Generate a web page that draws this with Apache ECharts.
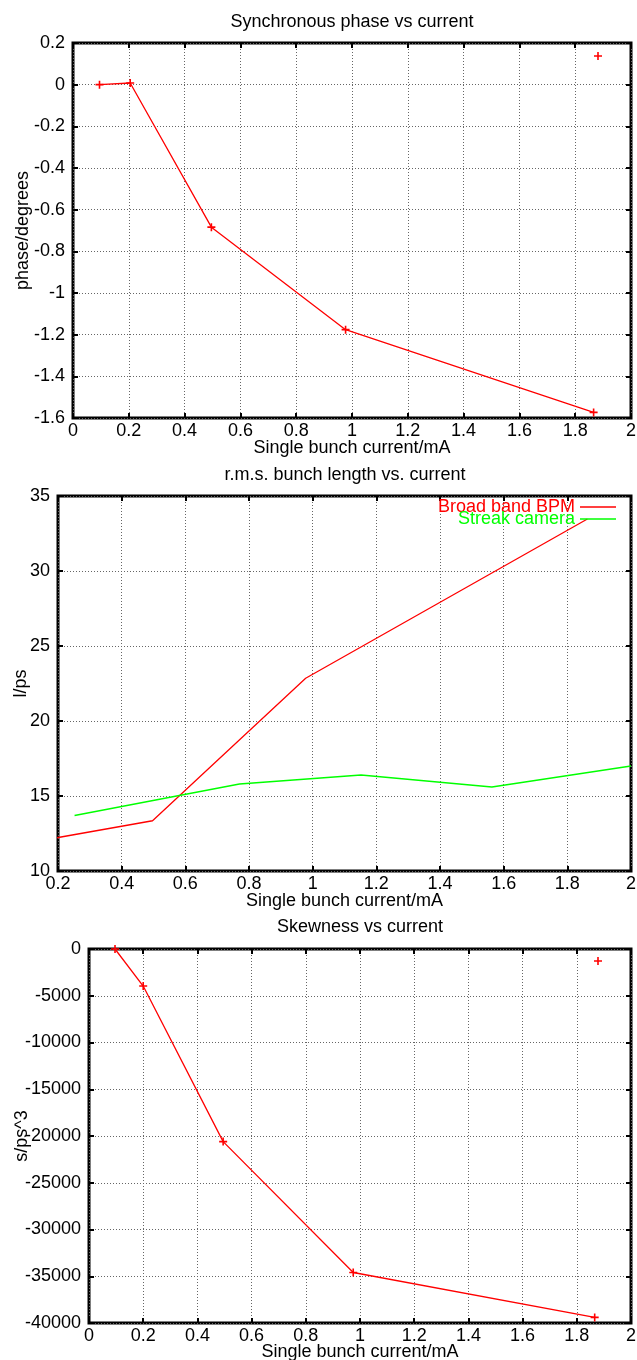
<!DOCTYPE html>
<html>
<head>
<meta charset="utf-8">
<title>Bunch measurements vs current</title>
<script src="https://cdn.jsdelivr.net/npm/echarts@6/dist/echarts.min.js"></script>
<style>
  html, body { margin: 0; padding: 0; background: #fff; }
  #chart { width: 637px; height: 1360px; }
</style>
</head>
<body>
<div id="chart"></div>
<script>
  // synchronous phase (top plot)
  const phaseCurrent = [0.095, 0.205, 0.496, 0.977, 1.866];
  const phaseDeg = [0, 0.008, -0.684, -1.176, -1.573];

  // r.m.s. bunch length (middle plot)
  const bpmCurrent = [0.095, 0.205, 0.497, 0.978, 1.863];
  const bpmLength = [11.8, 12.25, 13.35, 22.85, 33.47];
  const streakCurrent = [0.252, 0.77, 1.152, 1.563, 2.0];
  const streakLength = [13.7, 15.8, 16.4, 15.6, 17.0];

  // skewness (bottom plot)
  const skewCurrent = [0.096, 0.2, 0.495, 0.975, 1.866];
  const skewValue = [0, -3960, -20600, -34600, -39400];

  // axis ranges: [min, max, step]
  const currentAxis1 = [0, 2, 0.2];
  const currentAxis2 = [0.2, 2, 0.2];
  const phaseAxis = [-1.6, 0.2, 0.2];
  const lengthAxis = [10, 35, 5];
  const skewAxis = [-40000, 0, 5000];

  const titles = ['Synchronous phase vs current', 'r.m.s. bunch length vs. current', 'Skewness vs current'];
  const yNames = ['phase/degrees', 'l/ps', 's/ps^3'];
  const xName = 'Single bunch current/mA';
  const seriesNames = ['Broad band BPM', 'Streak camera'];

  const FONT = '"Liberation Sans", Arial, Helvetica, sans-serif';
  const PLUS = 'path://M4,0h2v4h4v2h-4v4h-2v-4h-4v-2h4z';

  function zip(xs, ys) {
    return xs.map((x, i) => [x, ys[i]]);
  }

  function fmt(v) {
    return String(Math.round(v * 1000) / 1000);
  }

  // main axis + mirrored axis with inward ticks (gnuplot style)
  function xAxes(grid, r, gap) {
    const base = {
      type: 'value', gridIndex: grid, min: r[0], max: r[1], interval: r[2],
      axisLine: { show: false, onZero: false },
      axisTick: { show: true, inside: true, length: 5, lineStyle: { color: '#000', width: 2 } }
    };
    return [
      Object.assign({}, base, {
        position: 'bottom',
        name: xName, nameLocation: 'middle', nameGap: gap, nameMoveOverlap: false,
        nameTextStyle: { fontSize: 18, color: '#000', fontFamily: FONT },
        axisLabel: { fontSize: 18, color: '#000', fontFamily: FONT, margin: 4, formatter: fmt },
        splitLine: { show: true, lineStyle: { color: '#666', type: [1, 2], width: 1 } }
      }),
      Object.assign({}, base, {
        position: 'top', axisLabel: { show: false }, splitLine: { show: false }
      })
    ];
  }

  function yAxes(grid, r, name, gap) {
    const base = {
      type: 'value', gridIndex: grid, min: r[0], max: r[1], interval: r[2],
      axisLine: { show: false, onZero: false },
      axisTick: { show: true, inside: true, length: 5, lineStyle: { color: '#000', width: 2 } }
    };
    return [
      Object.assign({}, base, {
        position: 'left',
        name: name, nameLocation: 'middle', nameGap: gap, nameMoveOverlap: false,
        nameTextStyle: { fontSize: 18, color: '#000', fontFamily: FONT },
        axisLabel: { fontSize: 18, color: '#000', fontFamily: FONT, margin: 8, formatter: fmt },
        splitLine: { show: true, lineStyle: { color: '#666', type: [1, 2], width: 1 } }
      }),
      Object.assign({}, base, {
        position: 'right', axisLabel: { show: false }, splitLine: { show: false }
      })
    ];
  }

  const gridBox = {
    show: true, borderColor: '#000', borderWidth: 3, backgroundColor: 'transparent',
    containLabel: false, outerBoundsMode: 'none'
  };

  const legendText = { fontSize: 18, fontFamily: FONT, lineHeight: 18 };

  const chart = echarts.init(document.getElementById('chart'));
  chart.setOption({
    animation: false,
    backgroundColor: '#fff',
    textStyle: { fontFamily: FONT },
    title: [
      { text: titles[0], left: 352, top: 13, textAlign: 'center', padding: 0,
        textStyle: { fontSize: 18, fontWeight: 'normal', color: '#000', fontFamily: FONT } },
      { text: titles[1], left: 345, top: 466, textAlign: 'center', padding: 0,
        textStyle: { fontSize: 18, fontWeight: 'normal', color: '#000', fontFamily: FONT } },
      { text: titles[2], left: 360, top: 918, textAlign: 'center', padding: 0,
        textStyle: { fontSize: 18, fontWeight: 'normal', color: '#000', fontFamily: FONT } }
    ],
    grid: [
      Object.assign({ left: 73, right: 6, top: 43, height: 375 }, gridBox),
      Object.assign({ left: 58, right: 6, top: 496, height: 375 }, gridBox),
      Object.assign({ left: 89, right: 6, top: 949, height: 374 }, gridBox)
    ],
    xAxis: [].concat(xAxes(0, currentAxis1, 21), xAxes(1, currentAxis2, 21), xAxes(2, currentAxis1, 20)),
    yAxis: [].concat(yAxes(0, phaseAxis, yNames[0], 41), yAxes(1, lengthAxis, yNames[1], 28),
      yAxes(2, skewAxis, yNames[2], 58)),
    legend: [
      { left: 594, top: 52, padding: 0, itemWidth: 8, itemHeight: 8, selectedMode: false,
        data: [{ name: ' ', icon: PLUS }], textStyle: { fontSize: 1 } },
      { right: 21, top: 498, padding: 0, align: 'right', itemWidth: 36, itemHeight: 1.5,
        selectedMode: false, icon: 'rect',
        data: [{ name: seriesNames[0], textStyle: { color: '#ff0000' } }], textStyle: legendText },
      { right: 21, top: 510, padding: 0, align: 'right', itemWidth: 36, itemHeight: 1.5,
        selectedMode: false, icon: 'rect',
        data: [{ name: seriesNames[1], textStyle: { color: '#00ff00' } }], textStyle: legendText },
      { left: 594, top: 957, padding: 0, itemWidth: 8, itemHeight: 8, selectedMode: false,
        data: [{ name: '  ', icon: PLUS }], textStyle: { fontSize: 1 } }
    ],
    series: [
      {
        name: ' ', type: 'line', xAxisIndex: 0, yAxisIndex: 0,
        data: zip(phaseCurrent, phaseDeg),
        symbol: PLUS, symbolSize: 8, showAllSymbol: true,
        lineStyle: { color: '#ff0000', width: 1.3 }, itemStyle: { color: '#ff0000' }
      },
      {
        name: seriesNames[0], type: 'line', xAxisIndex: 2, yAxisIndex: 2,
        data: zip(bpmCurrent, bpmLength), symbol: 'none', clip: true,
        lineStyle: { color: '#ff0000', width: 1.3 }, itemStyle: { color: '#ff0000' }
      },
      {
        name: seriesNames[1], type: 'line', xAxisIndex: 2, yAxisIndex: 2,
        data: zip(streakCurrent, streakLength), symbol: 'none', clip: true,
        lineStyle: { color: '#00ff00', width: 1.3 }, itemStyle: { color: '#00ff00' }
      },
      {
        name: '  ', type: 'line', xAxisIndex: 4, yAxisIndex: 4,
        data: zip(skewCurrent, skewValue),
        symbol: PLUS, symbolSize: 8, showAllSymbol: true,
        lineStyle: { color: '#ff0000', width: 1.3 }, itemStyle: { color: '#ff0000' }
      }
    ]
  });
</script>
</body>
</html>
